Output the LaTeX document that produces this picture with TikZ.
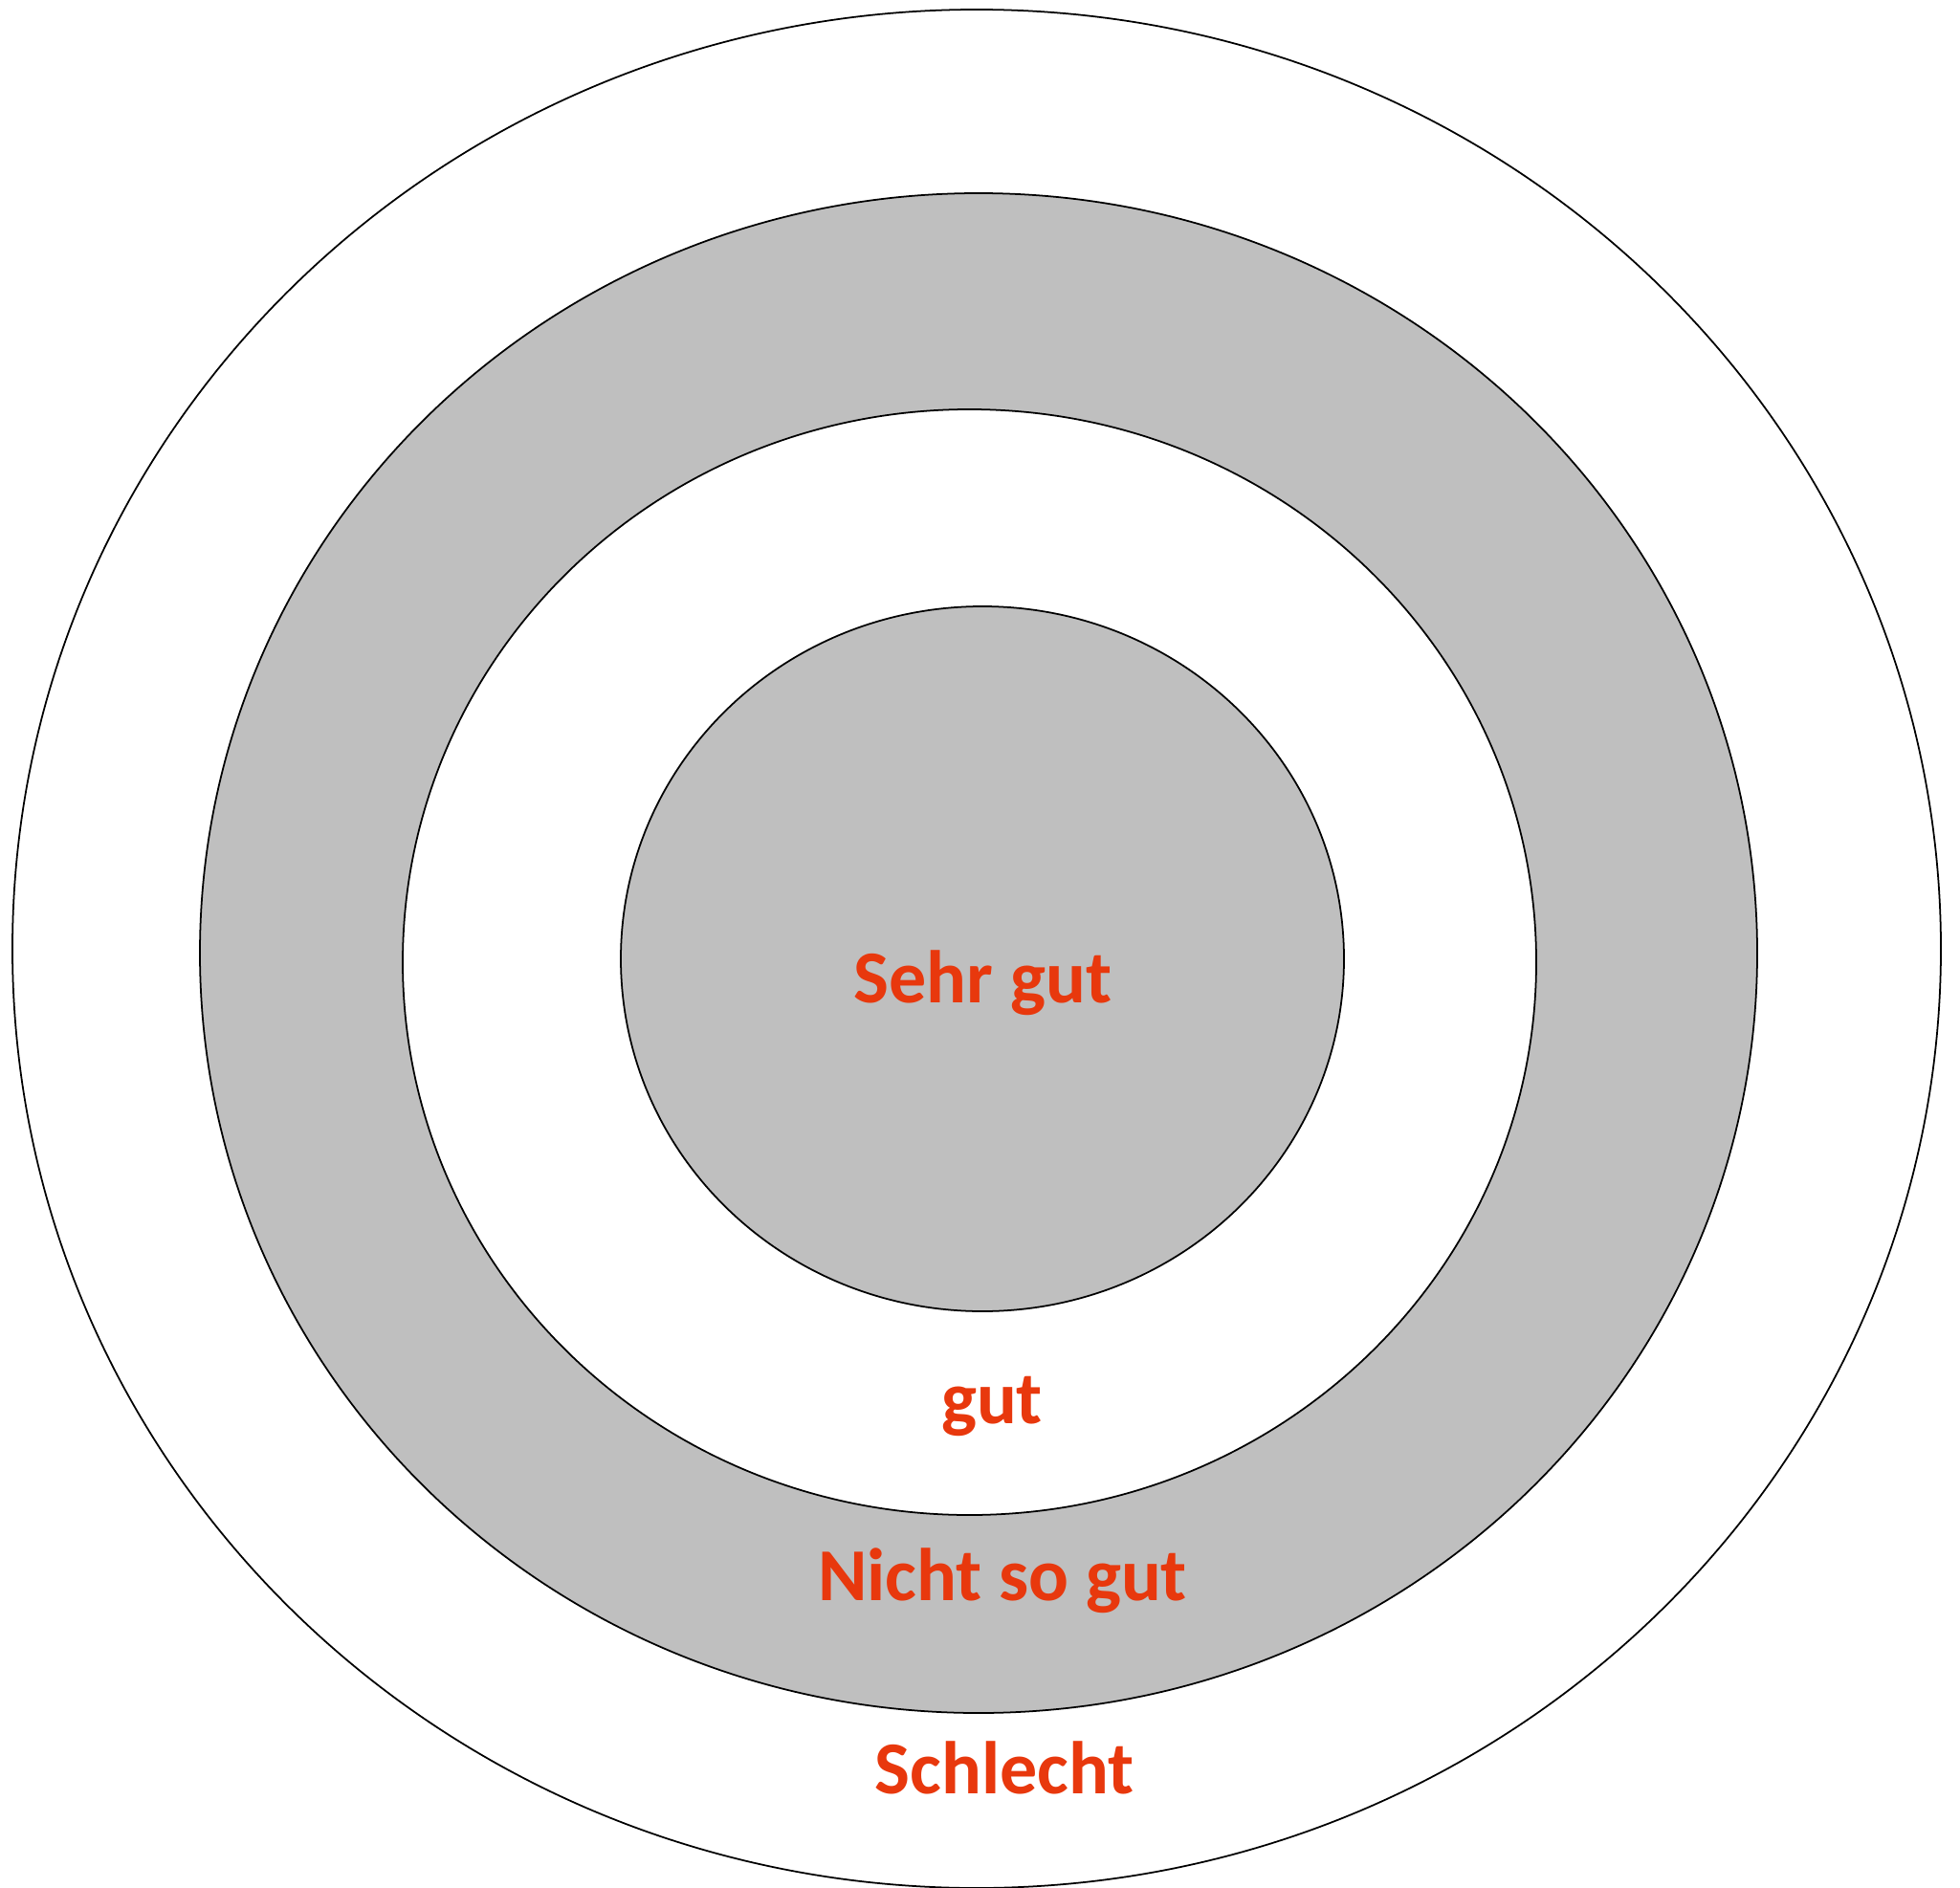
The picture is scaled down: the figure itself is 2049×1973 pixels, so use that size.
\documentclass[tikz,border=0pt]{standalone}
\usepackage{fontspec}
\setmainfont{Carlito}
\definecolor{labelred}{RGB}{232,56,13}
\definecolor{ringgray}{RGB}{191,191,191}
\begin{document}
\begin{tikzpicture}[x=0.01cm,y=-0.01cm,
  ring/.style={draw=black,line width=0.5pt},
  lbl/.style={anchor=base,text=labelred,font=\fontsize{22.2pt}{26pt}\selectfont\bfseries,inner sep=0pt}]
\useasboundingbox (0,0) rectangle (2049,1973);
\clip (0,0) rectangle (2049,1973);
\fill[white] (0,0) rectangle (2049,1973);
\draw[ring,fill=white] (1021,992) ellipse [x radius=1008, y radius=982];
\draw[ring,fill=ringgray] (1023,996.5) ellipse [x radius=814, y radius=794.5];
\draw[ring,fill=white] (1013.5,1006) ellipse [x radius=592.5, y radius=578];
\draw[ring,fill=ringgray] (1027,1002.5) ellipse [x radius=378, y radius=368.5];
\node[lbl] (sehrgut) at (1027.5,1048) {Sehr gut};
\node[lbl] (gut) at (1037,1488) {gut};
\node[lbl] (nichtsogut) at (1048,1673) {Nicht so gut};
\node[lbl] (schlecht) at (1050,1875) {Schlecht};
\end{tikzpicture}
\end{document}
